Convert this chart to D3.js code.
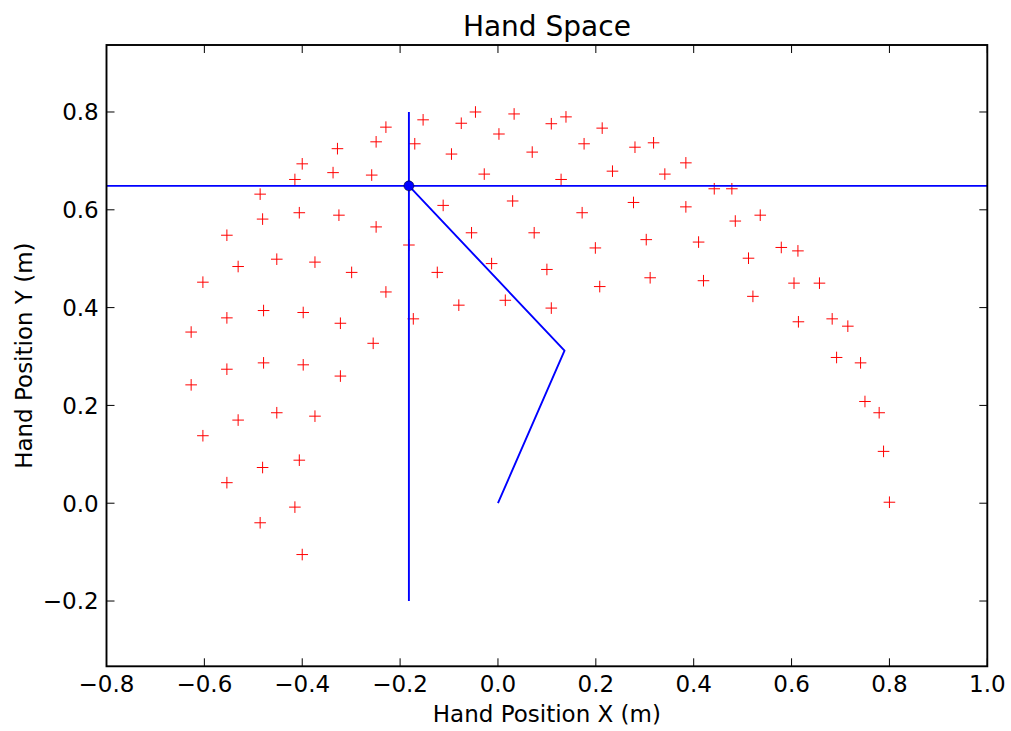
<!DOCTYPE html>
<html>
<head>
<meta charset="utf-8">
<script src="https://cdn.jsdelivr.net/npm/d3@7"></script>
<style>
  html, body { margin: 0; padding: 0; background: white; }
  svg { display: block; font-family: 'DejaVu Sans', sans-serif; }
</style>
</head>
<body>
<svg width="1011" height="731"></svg>
<script>
// === Data

// workspace samples, hand x / y in metres
const POINTS_X = [
  -0.229, -0.249, -0.328, -0.400, -0.337, -0.258, -0.415, -0.486, -0.481, -0.406,
  -0.325, -0.249, -0.554, -0.531, -0.452, -0.374, -0.299, -0.603, -0.182, -0.229,
  -0.554, -0.479, -0.398, -0.322, -0.627, -0.255, -0.554, -0.479, -0.398, -0.322,
  -0.627, -0.452, -0.531, -0.374, -0.603, -0.406, -0.481, -0.554, -0.415, -0.486,
  -0.400, -0.153, -0.170, -0.046, -0.075, 0.033, 0.002, 0.109, 0.139, 0.213,
  -0.095, 0.070, 0.176, 0.280, -0.028, 0.129, 0.234, -0.112, 0.030, 0.172,
  0.277, -0.054, 0.074, 0.199, -0.013, -0.124, 0.100, 0.208, -0.080, 0.015,
  0.109, -0.173, 0.318, 0.384, 0.341, 0.442, 0.478, 0.384, 0.485, 0.536,
  0.303, 0.410, 0.512, 0.579, 0.613, 0.311, 0.420, 0.521, 0.605, 0.657,
  0.614, 0.683, 0.715, 0.692, 0.741, 0.750, 0.779, 0.788, 0.800
];
const POINTS_Y = [
  0.769, 0.739, 0.725, 0.694, 0.676, 0.671, 0.662, 0.632, 0.581, 0.594,
  0.589, 0.565, 0.548, 0.484, 0.499, 0.493, 0.472, 0.452, 0.528, 0.432,
  0.379, 0.394, 0.390, 0.368, 0.350, 0.327, 0.274, 0.287, 0.283, 0.260,
  0.242, 0.185, 0.170, 0.178, 0.138, 0.088, 0.073, 0.042, -0.008, -0.040,
  -0.105, 0.784, 0.735, 0.800, 0.777, 0.796, 0.755, 0.776, 0.790, 0.767,
  0.714, 0.718, 0.735, 0.728, 0.673, 0.662, 0.679, 0.609, 0.618, 0.594,
  0.615, 0.553, 0.553, 0.522, 0.490, 0.472, 0.478, 0.443, 0.405, 0.415,
  0.399, 0.377, 0.737, 0.696, 0.673, 0.643, 0.643, 0.606, 0.577, 0.589,
  0.539, 0.534, 0.501, 0.523, 0.516, 0.461, 0.455, 0.423, 0.450, 0.450,
  0.371, 0.377, 0.362, 0.298, 0.287, 0.208, 0.185, 0.106, 0.002
];

// arm: shoulder, elbow, hand
const ARM_X = [0.000, 0.136, -0.182];
const ARM_Y = [0.000, 0.312, 0.649];

// crosshair through the hand
const CROSS_V_Y = [-0.2, 0.8];

const X_TICKS = [-0.8, -0.6, -0.4, -0.2, 0.0, 0.2, 0.4, 0.6, 0.8, 1.0];
const Y_TICKS = [-0.2, 0.0, 0.2, 0.4, 0.6, 0.8];
const X_DOMAIN = [-0.8, 1.0];
const Y_DOMAIN = [-0.3335, 0.937];

const TITLE = 'Hand Space';
const X_LABEL = 'Hand Position X (m)';
const Y_LABEL = 'Hand Position Y (m)';


// === Config

const FRAME = { left: 106.5, top: 45, right: 987.3, bottom: 666.3 };
const TICK_LEN = 8;
const TICK_FONT = 23;
const TITLE_FONT = 28;
const MARKER_HALF = 5.8;
const LINE_COLOR = '#0000ff';
const MARKER_COLOR = '#ff0000';


// === Main stuff

function main() {
  const svg = d3.select('svg');
  const width = FRAME.right - FRAME.left;
  const height = FRAME.bottom - FRAME.top;

  const x = d3.scaleLinear().domain(X_DOMAIN).range([0, width]);
  const y = d3.scaleLinear().domain(Y_DOMAIN).range([height, 0]);
  const fmt = d3.format('.1f');

  svg.append('rect')
    .attr('width', 1011).attr('height', 731)
    .attr('fill', 'white');

  const chart = svg.append('g')
    .attr('transform', `translate(${FRAME.left},${FRAME.top})`);

  svg.append('defs').append('clipPath').attr('id', 'plot-clip')
    .append('rect').attr('width', width).attr('height', height);

  const plot = chart.append('g').attr('clip-path', 'url(#plot-clip)');

  // sampled hand positions as '+' markers
  const pts = POINTS_X.map((v, i) => ({ x: v, y: POINTS_Y[i] }));
  plot.selectAll('path.pt')
    .data(pts)
    .enter()
    .append('path')
    .attr('class', 'pt')
    .attr('d', d => {
      const cx = x(d.x), cy = y(d.y);
      return `M${cx - MARKER_HALF},${cy}H${cx + MARKER_HALF}M${cx},${cy - MARKER_HALF}V${cy + MARKER_HALF}`;
    })
    .attr('stroke', MARKER_COLOR)
    .attr('stroke-width', 1)
    .attr('fill', 'none');

  const line = d3.line().x(d => x(d[0])).y(d => y(d[1]));
  const hand = [ARM_X[2], ARM_Y[2]];

  // crosshair
  plot.append('path')
    .datum(X_DOMAIN.map(v => [v, hand[1]]))
    .attr('d', line)
    .attr('stroke', LINE_COLOR).attr('stroke-width', 1.9).attr('fill', 'none');
  plot.append('path')
    .datum(CROSS_V_Y.map(v => [hand[0], v]))
    .attr('d', line)
    .attr('stroke', LINE_COLOR).attr('stroke-width', 1.9).attr('fill', 'none');

  // arm segments
  plot.append('path')
    .datum(ARM_X.map((v, i) => [v, ARM_Y[i]]))
    .attr('d', line)
    .attr('stroke', LINE_COLOR).attr('stroke-width', 1.9).attr('fill', 'none')
    .attr('stroke-linejoin', 'round');

  plot.append('circle')
    .attr('cx', x(hand[0])).attr('cy', y(hand[1])).attr('r', 5)
    .attr('fill', LINE_COLOR).attr('stroke', 'black').attr('stroke-width', 0.5);

  // ticks, inward on all four sides
  const ticks = chart.append('g').attr('stroke', 'black').attr('stroke-width', 1);
  X_TICKS.forEach(t => {
    ticks.append('line').attr('x1', x(t)).attr('x2', x(t)).attr('y1', height).attr('y2', height - TICK_LEN);
    ticks.append('line').attr('x1', x(t)).attr('x2', x(t)).attr('y1', 0).attr('y2', TICK_LEN);
  });
  Y_TICKS.forEach(t => {
    ticks.append('line').attr('y1', y(t)).attr('y2', y(t)).attr('x1', 0).attr('x2', TICK_LEN);
    ticks.append('line').attr('y1', y(t)).attr('y2', y(t)).attr('x1', width).attr('x2', width - TICK_LEN);
  });

  // frame
  chart.append('rect')
    .attr('width', width).attr('height', height)
    .attr('fill', 'none').attr('stroke', 'black').attr('stroke-width', 1.9);

  // tick labels
  chart.selectAll('text.xtick')
    .data(X_TICKS)
    .enter().append('text')
    .attr('class', 'xtick')
    .attr('x', d => x(d))
    .attr('y', height + 26)
    .attr('text-anchor', 'middle')
    .attr('font-size', TICK_FONT)
    .attr('fill', 'black')
    .text(d => fmt(d));

  chart.selectAll('text.ytick')
    .data(Y_TICKS)
    .enter().append('text')
    .attr('class', 'ytick')
    .attr('x', -7.8)
    .attr('y', d => y(d) + 8.3)
    .attr('text-anchor', 'end')
    .attr('font-size', TICK_FONT)
    .attr('fill', 'black')
    .text(d => fmt(d));

  // title and axis labels
  svg.append('text')
    .attr('x', FRAME.left + width / 2).attr('y', 35.7)
    .attr('text-anchor', 'middle')
    .attr('font-size', TITLE_FONT)
    .text(TITLE);

  svg.append('text')
    .attr('x', FRAME.left + width / 2).attr('y', 722)
    .attr('text-anchor', 'middle')
    .attr('font-size', TICK_FONT)
    .text(X_LABEL);

  svg.append('text')
    .attr('transform', `translate(32.3,${FRAME.top + height / 2}) rotate(-90)`)
    .attr('text-anchor', 'middle')
    .attr('font-size', TICK_FONT)
    .text(Y_LABEL);
}


// === Init

main();
</script>
</body>
</html>
